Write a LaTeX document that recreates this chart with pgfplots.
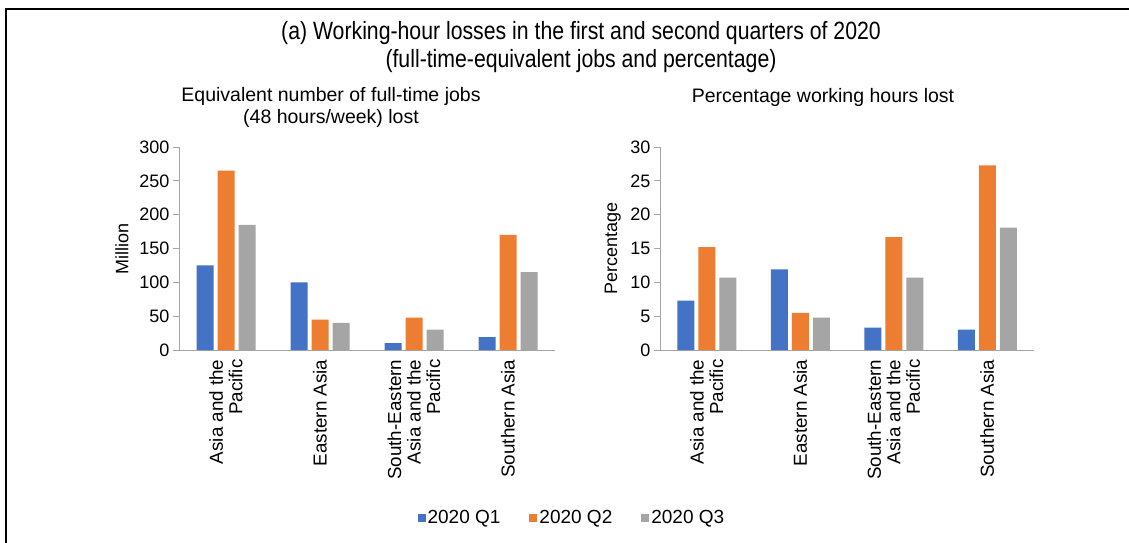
\documentclass[border=0pt]{standalone}
\usepackage{pgfplots}
\usepackage{pgfplotstable}
\pgfplotsset{compat=1.18}
\usepackage{fontspec}
\setmainfont{Liberation Sans}
\newfontfamily\titlefont{Liberation Sans}[FakeStretch=0.85]
\definecolor{cQ1}{HTML}{4472C4}
\definecolor{cQ2}{HTML}{ED7D31}
\definecolor{cQ3}{HTML}{A5A5A5}
\definecolor{axgray}{HTML}{A6A6A6}
\newcommand\myfont{\fontsize{18}{19.5}\selectfont}
\newcommand\catfont{\fontsize{18.8}{19.5}\selectfont}

\pgfplotstableread{
x q1 q2 q3
0 125 265 185
1 100 45 40
2 10 48 30
3 19 170 115
}\jobs
\pgfplotstableread{
x q1 q2 q3
0 7.3 15.2 10.7
1 11.9 5.5 4.8
2 3.3 16.7 10.7
3 3.0 27.3 18.1
}\pct

\pgfplotsset{
 sq/.style={legend image code/.code={\fill[##1] (0pt,-4pt) rectangle (8pt,4pt);}},
 panel/.style={
  scale only axis, height=203pt,
  anchor=south west,
  ybar=4pt, bar width=17pt,
  xmin=-0.5, xmax=3.5, ymin=0,
  axis x line*=bottom, axis y line*=left,
  axis line style={axgray, line width=0.8pt, -},
  xtick={0,1,2,3},
  xticklabels={{Asia and the\\Pacific},{Eastern Asia},{South-Eastern\\Asia and the\\Pacific},{Southern Asia}},
  xticklabel style={rotate=90, anchor=east, align=right, font=\catfont},
  major x tick style={draw=none},
  major y tick style={axgray, line width=0.8pt},
  tick align=outside,
  major tick length=6pt,
  yticklabel style={font=\myfont},
  /pgf/number format/assume math mode=true,
  ylabel style={font=\myfont, anchor=center},
  clip=false,
 }
}

\begin{document}
\begin{tikzpicture}
\useasboundingbox (0,0) rectangle (1129pt,-542pt);
\draw[line width=2pt] (5.7pt,-545pt) -- (5.7pt,-9pt) -- (1132pt,-9pt);

\node[font=\titlefont\fontsize{25}{28}\selectfont, align=center] at (581pt,-47pt)
  {(a) Working-hour losses in the first and second quarters of 2020\\(full-time-equivalent jobs and percentage)};
\node[font=\fontsize{19.5}{21.5}\selectfont, align=center] at (331pt,-107.5pt)
  {Equivalent number of full-time jobs\\(48 hours/week) lost};
\node[font=\fontsize{19.5}{21.5}\selectfont, align=center] at (823pt,-97pt)
  {Percentage working hours lost};

\begin{axis}[panel, at={(179pt,-350pt)}, width=376pt,
  ymax=300, ytick={0,50,...,300},
  ylabel={Million},
  ylabel style={at={(axis description cs:-0.152,0.5)}},
  legend style={at={(axis description cs:1.045,-0.828)}, anchor=center, draw=none,
    font=\fontsize{19}{20}\selectfont, legend columns=3,
    /tikz/every even column/.append style={column sep=27pt}},
  ]
\addplot[fill=cQ1, draw=none, sq] table[x=x,y=q1]{\jobs};
\addplot[fill=cQ2, draw=none, sq] table[x=x,y=q2]{\jobs};
\addplot[fill=cQ3, draw=none, sq] table[x=x,y=q3]{\jobs};
\legend{2020 Q1,2020 Q2,2020 Q3}
\end{axis}

\begin{axis}[panel, at={(660pt,-350pt)}, width=374pt,
  ymax=30, ytick={0,5,...,30},
  ylabel={Percentage},
  ylabel style={at={(axis description cs:-0.126,0.5)}},
  ]
\addplot[fill=cQ1, draw=none] table[x=x,y=q1]{\pct};
\addplot[fill=cQ2, draw=none] table[x=x,y=q2]{\pct};
\addplot[fill=cQ3, draw=none] table[x=x,y=q3]{\pct};
\end{axis}
\end{tikzpicture}
\end{document}
